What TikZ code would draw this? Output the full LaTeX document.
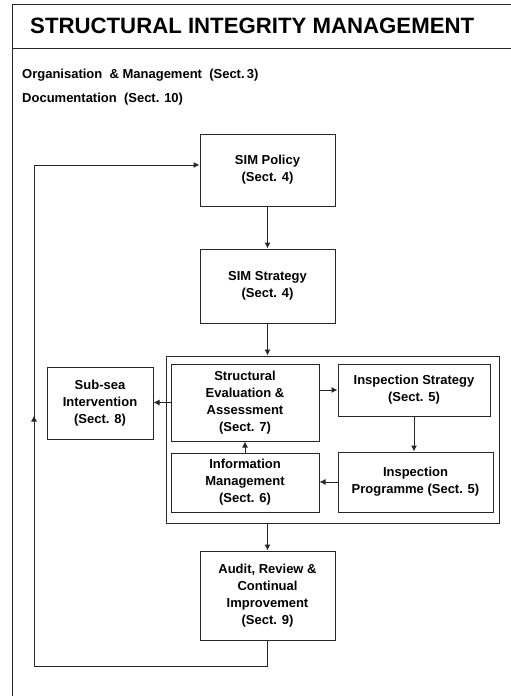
\documentclass[tikz,border=0pt]{standalone}
\usepackage{fontspec}
\setmainfont{Liberation Sans}
\usetikzlibrary{arrows.meta, positioning, decorations.markings}
\tikzset{%
  link/.style={line width=1pt, draw=black!85},
  flow/.style={link, -{Latex[length=6pt,width=6pt]}},
  box/.style={
    draw=black!85,
    line width=1pt,
    rectangle,
    align=center,
    inner sep=0pt,
    font=\bfseries\fontsize{13}{17}\selectfont
  },
  note/.style={anchor=west, inner sep=0pt, font=\bfseries\fontsize{13}{15}\selectfont},
  midarrow/.style={
    postaction={decorate},
    decoration={markings, mark=at position 0.5 with {\arrow{Latex[length=6pt,width=6pt]}}}
  }
}

\begin{document}
\begin{tikzpicture}[x=1pt, y=-1pt]
  \useasboundingbox (0,0) rectangle (511,696);
  \clip (0,0) rectangle (511,696);

  % frame and heading
  \draw[link] (12,700) -- (12,4) -- (520,4);
  \draw[link] (12,48) -- (520,48);
  \node[anchor=west, inner sep=0pt, font=\bfseries\fontsize{22.2}{26}\selectfont] (title) at (30,26) {STRUCTURAL INTEGRITY MANAGEMENT};
  \node[note] (org) at (22,75) {Organisation\ \ \& Management\ \ (Sect.\,3)};
  \node[note] (doc) at (22,99) {Documentation\ \ (Sect. 10)};

  % main boxes
  \node[box, minimum width=135pt, minimum height=72pt] (policy) at (267.5,170) {SIM Policy\\(Sect. 4)};
  \node[box, minimum width=135pt, minimum height=74pt] (strategy) at (267.5,286) {SIM Strategy\\(Sect. 4)};
  \node[box, minimum width=333pt, minimum height=167pt] (group) at (332.5,439.5) {};
  \node[box, minimum width=148pt, minimum height=77pt] (eval) at (245,402.5) {Structural\\Evaluation \&\\Assessment\\(Sect. 7)};
  \node[box, minimum width=152pt, minimum height=52pt] (inspstrat) at (414,390) {Inspection Strategy\\(Sect. 5)};
  \node[box, minimum width=155pt, minimum height=60pt] (insprog) at (415.5,482) {Inspection\\Programme (Sect. 5)};
  \node[box, minimum width=148pt, minimum height=59pt] (info) at (245,482.5) {Information\\Management\\(Sect. 6)};
  \node[box, minimum width=106pt, minimum height=72pt] (sea) at (100,403) {Sub-sea\\Intervention\\(Sect. 8)};
  \node[box, minimum width=135pt, minimum height=89pt] (audit) at (267.5,595.5) {Audit, Review \&\\Continual\\Improvement\\(Sect. 9)};

  \coordinate (loopbl) at (34,666);
  \coordinate (looptl) at (34,165);

  % arrows
  \draw[flow] (policy) -- (strategy);
  \draw[flow] (strategy.south) -- (strategy.south |- group.north);
  \draw[flow] (audit.north |- group.south) -- (audit.north);
  \draw[flow] (eval.west) -- (eval.west -| sea.east);
  \draw[flow] (eval.east |- inspstrat) -- (inspstrat.west);
  \draw[flow] (inspstrat.south) -- (inspstrat.south |- insprog.north);
  \draw[flow] (insprog.west) -- (insprog.west -| info.east);
  \draw[flow] (info.north) -- (eval.south);

  % feedback loop
  \draw[link] (audit.south) |- (loopbl);
  \draw[link, midarrow] (loopbl) -- (looptl);
  \draw[flow] (looptl) -- (looptl -| policy.west);
\end{tikzpicture}
\end{document}
